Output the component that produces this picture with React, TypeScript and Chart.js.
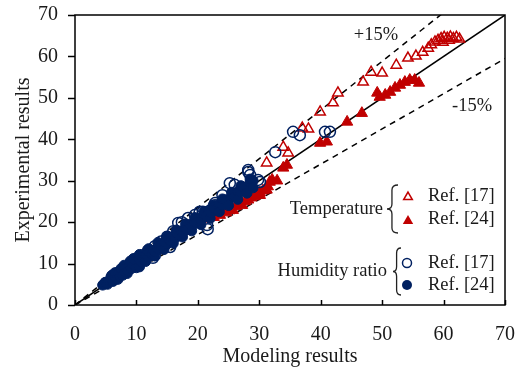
import React, { useEffect, useRef } from "react";
import { Chart, registerables } from "chart.js";
Chart.register(...registerables);

const FONT = "'Liberation Serif', 'Times New Roman', serif";
const RED = "#C00000";
const NAVY = "#002060";

const axisMin = 0;
const axisMax = 70;
const axisStep = 10;

// Temperature, Ref. [17] (open triangles)
const tempRef17: [number, number][] = [
  [22.6, 23.4], [23.4, 22.6], [24.3, 23.8], [25.0, 22.8], [25.4, 24.0],
  [31.2, 34.3], [33.9, 38.1], [34.7, 36.7], [37.0, 42.7], [38.0, 42.5],
  [39.9, 46.6], [42.0, 48.8], [42.8, 51.2], [46.9, 53.8], [48.2, 56.2],
  [50.0, 56.0], [52.3, 57.9], [54.2, 59.6], [55.5, 60.1], [56.6, 61.0],
  [57.5, 62.0], [58.0, 62.8], [58.6, 63.5], [59.1, 63.9], [59.6, 64.3],
  [60.1, 64.6], [60.6, 64.4], [61.1, 64.7], [61.6, 64.3], [62.1, 64.6],
  [62.6, 64.2], [59.9, 63.4], [60.9, 63.9],
];

// Temperature, Ref. [24] (filled triangles)
const tempRef24: [number, number][] = [
  [21.5, 20.8], [22.0, 21.6], [22.6, 21.2], [23.1, 22.0], [23.6, 21.7],
  [24.1, 22.6], [24.6, 22.3], [25.2, 23.1], [25.7, 22.9], [26.2, 23.8],
  [26.7, 24.4], [26.9, 25.3], [27.2, 24.1], [27.7, 25.0], [28.2, 25.4],
  [28.7, 25.9], [29.2, 26.2], [29.7, 26.6], [30.1, 27.1], [30.1, 26.5],
  [30.6, 27.6], [31.1, 27.9], [31.2, 27.8], [31.4, 28.6], [31.7, 29.7],
  [32.1, 30.2], [32.9, 30.0], [33.9, 33.1], [34.5, 33.8],
  [39.9, 39.1], [41.0, 39.4], [44.3, 44.2], [46.7, 46.3], [49.2, 51.2],
  [49.6, 50.2], [50.5, 50.7], [51.3, 51.4], [52.1, 52.4], [52.9, 53.1],
  [53.7, 53.8], [54.5, 54.3], [55.3, 54.3], [56.0, 53.6],
];

// Humidity ratio, Ref. [17] (open circles)
const humRef17: [number, number][] = [
  [5.0, 5.3], [6.0, 6.8], [7.0, 7.8], [8.0, 9.0], [9.0, 10.0],
  [10.0, 11.2], [11.0, 12.0], [12.0, 13.0], [12.7, 11.4], [13.0, 12.0],
  [13.0, 14.2], [14.0, 15.3], [15.0, 16.5], [15.5, 14.0], [16.0, 17.8],
  [16.8, 19.8], [17.4, 20.0], [18.4, 21.0], [19.5, 21.7], [20.3, 22.5],
  [20.8, 22.5], [21.5, 19.3], [21.6, 18.3], [22.0, 22.8], [22.8, 24.1],
  [22.8, 24.6], [24.0, 26.5], [25.2, 29.4], [26.0, 29.0], [28.2, 32.1],
  [28.2, 32.6], [28.5, 31.4], [29.8, 30.2], [30.1, 29.7], [32.6, 36.9],
  [35.5, 41.8], [36.6, 41.0], [40.7, 41.8], [41.5, 41.8],
];

// Humidity ratio, Ref. [24] (filled circles)
const humRef24: [number, number][] = [
  [4.5, 4.8], [5.0, 5.5], [5.3, 5.0], [5.6, 5.9], [6.0, 6.2], [6.0, 7.2],
  [6.2, 5.7], [6.5, 6.8], [6.5, 7.8], [6.8, 6.3], [7.0, 7.4], [7.0, 6.2],
  [7.3, 6.9], [7.5, 7.8], [7.5, 8.8], [7.8, 7.2], [8.0, 8.4], [8.0, 9.6],
  [8.2, 7.8], [8.5, 8.9], [8.5, 7.6], [8.7, 8.2], [9.0, 9.5], [9.0, 10.6],
  [9.2, 8.8], [9.5, 10.0], [9.5, 11.2], [9.8, 9.4], [10.0, 10.5], [10.0, 9.0],
  [10.3, 9.9], [10.5, 11.0], [10.5, 12.2], [10.5, 9.2], [10.8, 10.4],
  [11.0, 11.5], [11.3, 11.0], [11.5, 10.5], [11.6, 12.0], [11.8, 13.3],
  [12.0, 11.6], [12.0, 13.6], [12.2, 12.7], [12.5, 12.2], [12.8, 13.2],
  [13.0, 11.9], [13.1, 12.8], [13.4, 13.9], [13.5, 15.1], [13.7, 13.4],
  [14.0, 14.5], [14.3, 14.0], [14.5, 13.4], [14.6, 15.2], [15.0, 14.7],
  [15.0, 16.6], [15.3, 15.9], [15.6, 15.4], [16.0, 16.6], [16.0, 14.9],
  [16.3, 16.1], [16.5, 18.1], [16.6, 17.3], [17.0, 16.8], [17.3, 17.9],
  [17.5, 16.4], [17.6, 17.5], [18.0, 18.6], [18.0, 19.6], [18.3, 18.2],
  [18.7, 19.4], [19.0, 19.0], [19.0, 17.9], [19.4, 20.2], [19.5, 21.1],
  [19.8, 19.8], [20.2, 21.0], [20.5, 19.4], [20.6, 20.6], [21.0, 21.8],
  [21.0, 22.6], [21.4, 21.4], [21.8, 22.7], [22.0, 20.9], [22.2, 22.3],
  [22.5, 24.1], [22.6, 23.5], [23.0, 23.2], [23.5, 24.4], [23.5, 22.5],
  [24.0, 24.1], [24.0, 25.6], [24.5, 25.4], [25.0, 25.2], [25.0, 24.0],
  [25.5, 26.4], [25.5, 27.2], [26.0, 26.2], [26.5, 27.4], [26.5, 25.5],
  [27.0, 27.3], [27.0, 28.8], [27.5, 28.4], [28.0, 28.6], [28.0, 27.0],
  [28.5, 29.6], [28.5, 30.4], [29.0, 30.0], [29.0, 28.3],
];

// Reference lines: slope, dash
const refSlopes = [1, 1 / 0.85, 0.85];
const refDashed = [false, true, true];

const toPts = (a: [number, number][]) => a.map(([x, y]) => ({ x, y }));

function drawTri(ctx: CanvasRenderingContext2D, x: number, y: number, r: number, fill: boolean) {
  ctx.beginPath();
  for (let i = 0; i < 3; i++) {
    const a = -Math.PI / 2 + (i * 2 * Math.PI) / 3;
    const px = x + r * Math.cos(a);
    const py = y + r * Math.sin(a);
    if (i === 0) ctx.moveTo(px, py);
    else ctx.lineTo(px, py);
  }
  ctx.closePath();
  if (fill) {
    ctx.fillStyle = RED;
    ctx.fill();
  } else {
    ctx.strokeStyle = RED;
    ctx.lineWidth = 1.5;
    ctx.stroke();
  }
}

function drawCirc(ctx: CanvasRenderingContext2D, x: number, y: number, r: number, fill: boolean) {
  ctx.beginPath();
  ctx.arc(x, y, r, 0, Math.PI * 2);
  if (fill) {
    ctx.fillStyle = NAVY;
    ctx.fill();
  } else {
    ctx.strokeStyle = NAVY;
    ctx.lineWidth = 1.5;
    ctx.stroke();
  }
}

function drawBrace(ctx: CanvasRenderingContext2D, x: number, y1: number, y2: number, w: number) {
  const ym = (y1 + y2) / 2;
  ctx.beginPath();
  ctx.moveTo(x + w, y1);
  ctx.quadraticCurveTo(x + w * 0.45, y1, x + w * 0.45, y1 + 5);
  ctx.lineTo(x + w * 0.45, ym - 5);
  ctx.quadraticCurveTo(x + w * 0.45, ym, x, ym);
  ctx.quadraticCurveTo(x + w * 0.45, ym, x + w * 0.45, ym + 5);
  ctx.lineTo(x + w * 0.45, y2 - 5);
  ctx.quadraticCurveTo(x + w * 0.45, y2, x + w, y2);
  ctx.strokeStyle = "#222";
  ctx.lineWidth = 1.3;
  ctx.stroke();
}

const decor = {
  id: "decor",
  beforeDatasetsDraw(chart: any) {
    const { ctx, chartArea: ca, scales } = chart;
    const xs = scales.x;
    const ys = scales.y;
    ctx.save();
    ctx.beginPath();
    ctx.rect(ca.left, ca.top, ca.right - ca.left, ca.bottom - ca.top);
    ctx.clip();
    refSlopes.forEach((s, i) => {
      ctx.beginPath();
      ctx.setLineDash(refDashed[i] ? [6, 5] : []);
      ctx.strokeStyle = "#000";
      ctx.lineWidth = 1.5;
      ctx.moveTo(xs.getPixelForValue(axisMin), ys.getPixelForValue(axisMin));
      ctx.lineTo(xs.getPixelForValue(axisMax), ys.getPixelForValue(axisMax * s));
      ctx.stroke();
    });
    ctx.restore();
  },
  afterDraw(chart: any) {
    const { ctx, chartArea: ca, scales } = chart;
    const xs = scales.x;
    const ys = scales.y;
    ctx.save();
    ctx.setLineDash([]);
    ctx.strokeStyle = "#000";
    ctx.lineWidth = 1.5;
    ctx.strokeRect(ca.left, ca.top, ca.right - ca.left, ca.bottom - ca.top);
    for (let v = axisMin; v <= axisMax; v += axisStep) {
      const px = Math.round(xs.getPixelForValue(v)) + 0.5;
      ctx.beginPath();
      ctx.moveTo(px, ca.bottom);
      ctx.lineTo(px, ca.bottom - 5);
      ctx.stroke();
      const py = Math.round(ys.getPixelForValue(v)) + 0.5;
      ctx.beginPath();
      ctx.moveTo(ca.left - 7, py);
      ctx.lineTo(ca.left, py);
      ctx.stroke();
    }
    ctx.fillStyle = "#1a1a1a";
    ctx.font = `18.5px ${FONT}`;
    ctx.textBaseline = "middle";
    ctx.textAlign = "center";
    ctx.fillText("+15%", 376, 35);
    ctx.fillText("-15%", 472, 106);

    // legend
    ctx.textAlign = "right";
    ctx.fillText("Temperature", 383, 209);
    ctx.fillText("Humidity ratio", 387, 271);
    ctx.textAlign = "left";
    ctx.fillText("Ref. [17]", 428, 196);
    ctx.fillText("Ref. [24]", 428, 219);
    ctx.fillText("Ref. [17]", 428, 263);
    ctx.fillText("Ref. [24]", 428, 285);
    drawBrace(ctx, 387, 185, 233, 11);
    drawBrace(ctx, 393, 248, 295, 8);
    drawTri(ctx, 408, 197, 5, false);
    drawTri(ctx, 408, 221, 6, true);
    drawCirc(ctx, 407, 263, 4.5, false);
    drawCirc(ctx, 407, 285, 5, true);
    ctx.restore();
  },
};

const zeroPad = (s: any) => {
  s.paddingTop = 0;
  s.paddingBottom = 0;
  s.paddingLeft = 0;
  s.paddingRight = 0;
};

export default function App() {
  const ref = useRef<HTMLCanvasElement | null>(null);
  useEffect(() => {
    if (!ref.current) return;
    const chart = new Chart(ref.current, {
      type: "scatter",
      data: {
        datasets: [
          {
            label: "Humidity ratio Ref. [24]",
            data: toPts(humRef24),
            pointStyle: "circle",
            pointRadius: 5,
            backgroundColor: NAVY,
            borderColor: NAVY,
            borderWidth: 1,
          },
          {
            label: "Humidity ratio Ref. [17]",
            data: toPts(humRef17),
            pointStyle: "circle",
            pointRadius: 5.5,
            backgroundColor: "rgba(0,0,0,0)",
            borderColor: NAVY,
            borderWidth: 1.5,
          },
          {
            label: "Temperature Ref. [24]",
            data: toPts(tempRef24),
            pointStyle: "triangle",
            pointRadius: 6.5,
            backgroundColor: RED,
            borderColor: RED,
            borderWidth: 1,
          },
          {
            label: "Temperature Ref. [17]",
            data: toPts(tempRef17),
            pointStyle: "triangle",
            pointRadius: 6,
            backgroundColor: "rgba(0,0,0,0)",
            borderColor: RED,
            borderWidth: 1.5,
          },
        ],
      },
      options: {
        animation: false,
        responsive: false,
        maintainAspectRatio: false,
        layout: { padding: { top: 15, right: 11, left: 0, bottom: 0 } },
        plugins: { legend: { display: false }, tooltip: { enabled: false } },
        scales: {
          x: {
            type: "linear",
            min: axisMin,
            max: axisMax,
            ticks: { stepSize: axisStep, font: { family: FONT, size: 20 }, color: "#1a1a1a", padding: 18, maxRotation: 0 },
            grid: { display: false, drawTicks: false },
            border: { display: false },
            title: { display: true, text: "Modeling results", font: { family: FONT, size: 20 }, color: "#1a1a1a", padding: { top: 0, bottom: 2 } },
            afterFit: (s: any) => { s.height = 66; zeroPad(s); },
          },
          y: {
            type: "linear",
            min: axisMin,
            max: axisMax,
            ticks: { stepSize: axisStep, font: { family: FONT, size: 20 }, color: "#1a1a1a", padding: 17 },
            grid: { display: false, drawTicks: false },
            border: { display: false },
            title: { display: true, text: "Experimental results", font: { family: FONT, size: 20 }, color: "#1a1a1a", padding: { top: 12, bottom: 0 } },
            afterFit: (s: any) => { s.width = 75; zeroPad(s); },
          },
        },
      },
      plugins: [decor],
    } as any);
    return () => chart.destroy();
  }, []);
  return (
    <div style={{ position: "fixed", left: 0, top: 0, width: 516, height: 371, background: "#fff" }}>
      <canvas ref={ref} width={516} height={371} style={{ display: "block", width: 516, height: 371 }} />
    </div>
  );
}
